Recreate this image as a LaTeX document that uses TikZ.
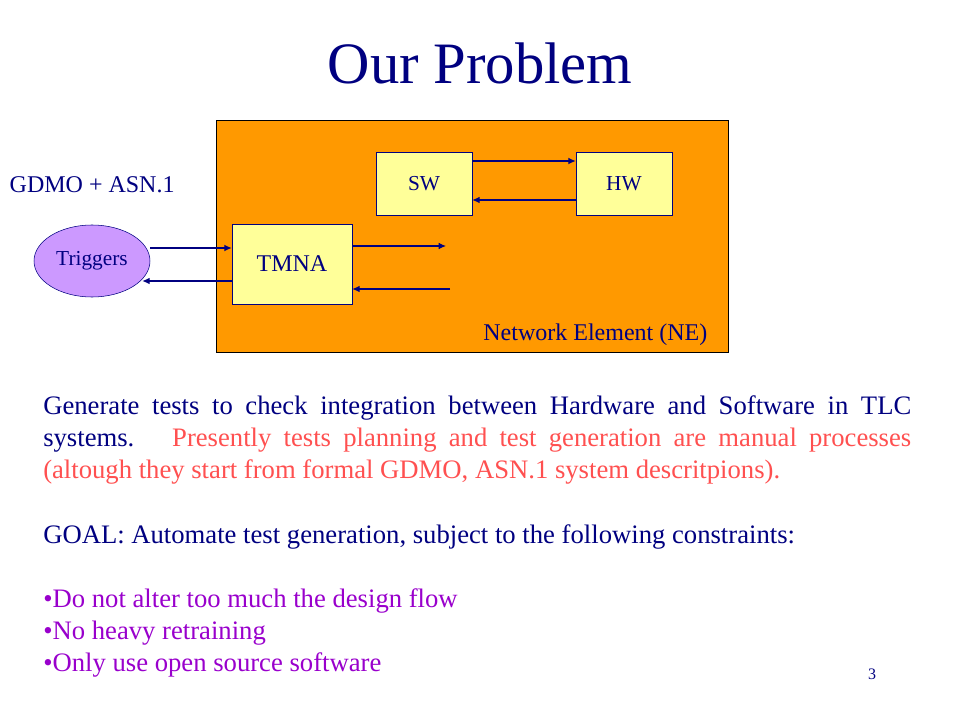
\documentclass[tikz,border=0pt]{standalone}
\usepackage{fontspec}
\setmainfont{Liberation Serif}
\usetikzlibrary{arrows.meta, positioning, shapes.geometric}
\definecolor{navy}{HTML}{000080}
\definecolor{neorange}{HTML}{FF9900}
\definecolor{pale}{HTML}{FFFF99}
\definecolor{lilac}{HTML}{CC99FF}
\definecolor{salmon}{HTML}{FF5050}
\definecolor{violet}{HTML}{9900CC}

\begin{document}
\begin{tikzpicture}[
    x=0.75pt, y=-0.75pt,
    box/.style={draw=navy, fill=pale, inner sep=0pt, text=navy},
    conn/.style={-{Latex[length=5.5pt, width=5pt]}, draw=navy, line width=0.8pt},
]
\useasboundingbox (0,0) rectangle (960,720);
\node[text=navy, font=\fontsize{44}{50}\selectfont, anchor=base] (title) at (480,84) {Our Problem};
% network element and its parts
\node[draw=black, fill=neorange, minimum width=384pt, minimum height=174pt, inner sep=0pt] (ne) at (472,236) {};
\node[anchor=base east, text=navy, font=\fontsize{18}{20}\selectfont] (nelabel) at (712,340) {Network Element (NE)};
\node[box, minimum width=72pt, minimum height=47.25pt, font=\fontsize{16}{18}\selectfont] (sw) at (424,183.5) {SW};
\node[box, minimum width=72pt, minimum height=47.25pt, font=\fontsize{16}{18}\selectfont] (hw) at (624,183.5) {HW};
\node[box, minimum width=90pt, minimum height=60pt, font=\fontsize{18}{20}\selectfont] (tmna) at (292,264) {TMNA};
\node[ellipse, draw=navy, fill=lilac, minimum width=87pt, minimum height=54pt, inner sep=0pt, text=navy, font=\fontsize{16}{18}\selectfont] (trig) at (92,261) {Triggers};
\node[anchor=base west, text=navy, font=\fontsize{18}{20}\selectfont] (gdmo) at (5,193) {GDMO + ASN.1};
\coordinate (out) at (446,246);
\coordinate (in) at (450,289);
\draw[conn] (sw.east |- 0,161) -- (hw.west |- 0,161);
\draw[conn] (hw.west |- 0,200) -- (sw.east |- 0,200);
\draw[conn] (trig.east |- 0,248) -- (tmna.west |- 0,248);
\draw[conn] (tmna.west |- 0,281) -- (trig.-20 |- 0,281);
\draw[conn] (tmna.east |- out) -- (out);
\draw[conn] (in) -- (tmna.east |- in);
% text below
\node[anchor=base west, text width=651pt, align=justify, inner sep=0pt, text=navy, font=\fontsize{20}{24}\selectfont] (para) at (43,414)
  {Generate tests to check integration between Hardware and Software in TLC\linebreak systems.~ \textcolor{salmon}{Presently tests planning and test generation are manual processes\linebreak (altough they start from formal GDMO, ASN.1 system descritpions).}};
\node[anchor=base west, inner sep=0pt, text=navy, font=\fontsize{20}{24}\selectfont] (goal) at (43,543)
  {GOAL: Automate test generation, subject to the following constraints:};
\node[anchor=base west, inner sep=0pt, align=left, text=violet, font=\fontsize{20}{24}\selectfont] (list) at (43,671)
  {•Do not alter too much the design flow\\ •No heavy retraining\\ •Only use open source software};
\node[anchor=base, text=navy, font=\fontsize{12}{14}\selectfont] (page) at (872,679) {3};
\end{tikzpicture}
\end{document}
